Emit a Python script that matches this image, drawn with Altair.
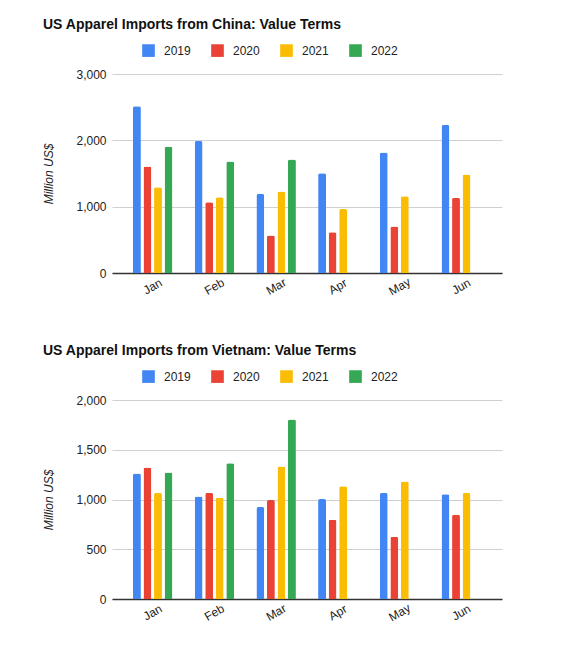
import altair as alt
import pandas as pd

months = ["Jan", "Feb", "Mar", "Apr", "May", "Jun"]
years = ["2019", "2020", "2021", "2022"]
colors = ["#4285F4", "#EA4335", "#FBBC04", "#34A853"]

china_2019 = [2515, 1990, 1192, 1505, 1818, 2232]
china_2020 = [1606, 1066, 566, 616, 702, 1136]
china_2021 = [1293, 1141, 1227, 965, 1157, 1485]
china_2022 = [1904, 1682, 1712, None, None, None]

vn_2019 = [1261, 1029, 924, 1005, 1066, 1052]
vn_2020 = [1321, 1066, 995, 797, 625, 847]
vn_2021 = [1066, 1018, 1331, 1133, 1180, 1066]
vn_2022 = [1271, 1365, 1805, None, None, None]

china_ticks = [0, 1000, 2000, 3000]
vn_ticks = [0, 500, 1000, 1500, 2000]

FONT = "Liberation Sans"


def to_df(series):
    rows = []
    for yr, vals in zip(years, series):
        for m, v in zip(months, vals):
            if v is not None:
                rows.append({"month": m, "year": yr, "value": v})
    return pd.DataFrame(rows)


def make(df, title, ticks):
    return alt.Chart(
        df,
        title=alt.TitleParams(
            title, anchor="start", frame="bounds", fontSize=14, fontWeight="bold",
            font=FONT, color="#111", offset=12,
        ),
    ).mark_bar(cornerRadiusTopLeft=2, cornerRadiusTopRight=2).encode(
        x=alt.X(
            "month:N", sort=months,
            scale=alt.Scale(paddingInner=0.36, paddingOuter=0.34),
            axis=alt.Axis(
                title=None, labelAngle=-30, labelAlign="center", labelBaseline="middle",
                labelPadding=13, ticks=False, domainColor="#333", domainWidth=1.5,
                grid=False, labelFont=FONT, labelFontSize=12, labelColor="#222",
            ),
        ),
        xOffset=alt.XOffset("year:N", sort=years,
                            scale=alt.Scale(paddingInner=0.25, paddingOuter=0)),
        y=alt.Y(
            "value:Q",
            scale=alt.Scale(domain=[ticks[0], ticks[-1]], nice=False),
            axis=alt.Axis(
                values=ticks, format=",d", title="Million US$", titleFontStyle="italic",
                titleFontWeight="normal", titleFont=FONT, titleFontSize=12,
                titleColor="#222", titlePadding=20, labelFont=FONT, labelFontSize=12,
                labelColor="#222", labelPadding=6, domain=False, ticks=False,
                gridColor="#d0d0d0", gridWidth=1,
            ),
        ),
        color=alt.Color(
            "year:N",
            scale=alt.Scale(domain=years, range=colors),
            legend=alt.Legend(
                orient="none", legendX=30, legendY=-30, direction="horizontal",
                title=None, symbolType="square", symbolSize=160, symbolStrokeWidth=0,
                labelFont=FONT, labelFontSize=12, labelColor="#222", labelOffset=9,
                columnPadding=20,
            ),
        ),
    ).properties(width=390, height=199)


china = make(to_df([china_2019, china_2020, china_2021, china_2022]),
             "US Apparel Imports from China: Value Terms", china_ticks)
vn = make(to_df([vn_2019, vn_2020, vn_2021, vn_2022]),
          "US Apparel Imports from Vietnam: Value Terms", vn_ticks)

chart = alt.vconcat(china, vn, spacing=47).resolve_scale(color="independent").properties(
    padding={"left": 34, "top": 10, "right": 10, "bottom": 10},
    background="white",
).configure_view(stroke=None)

chart.save("out.html", embed_options={"renderer": "svg", "actions": False})
